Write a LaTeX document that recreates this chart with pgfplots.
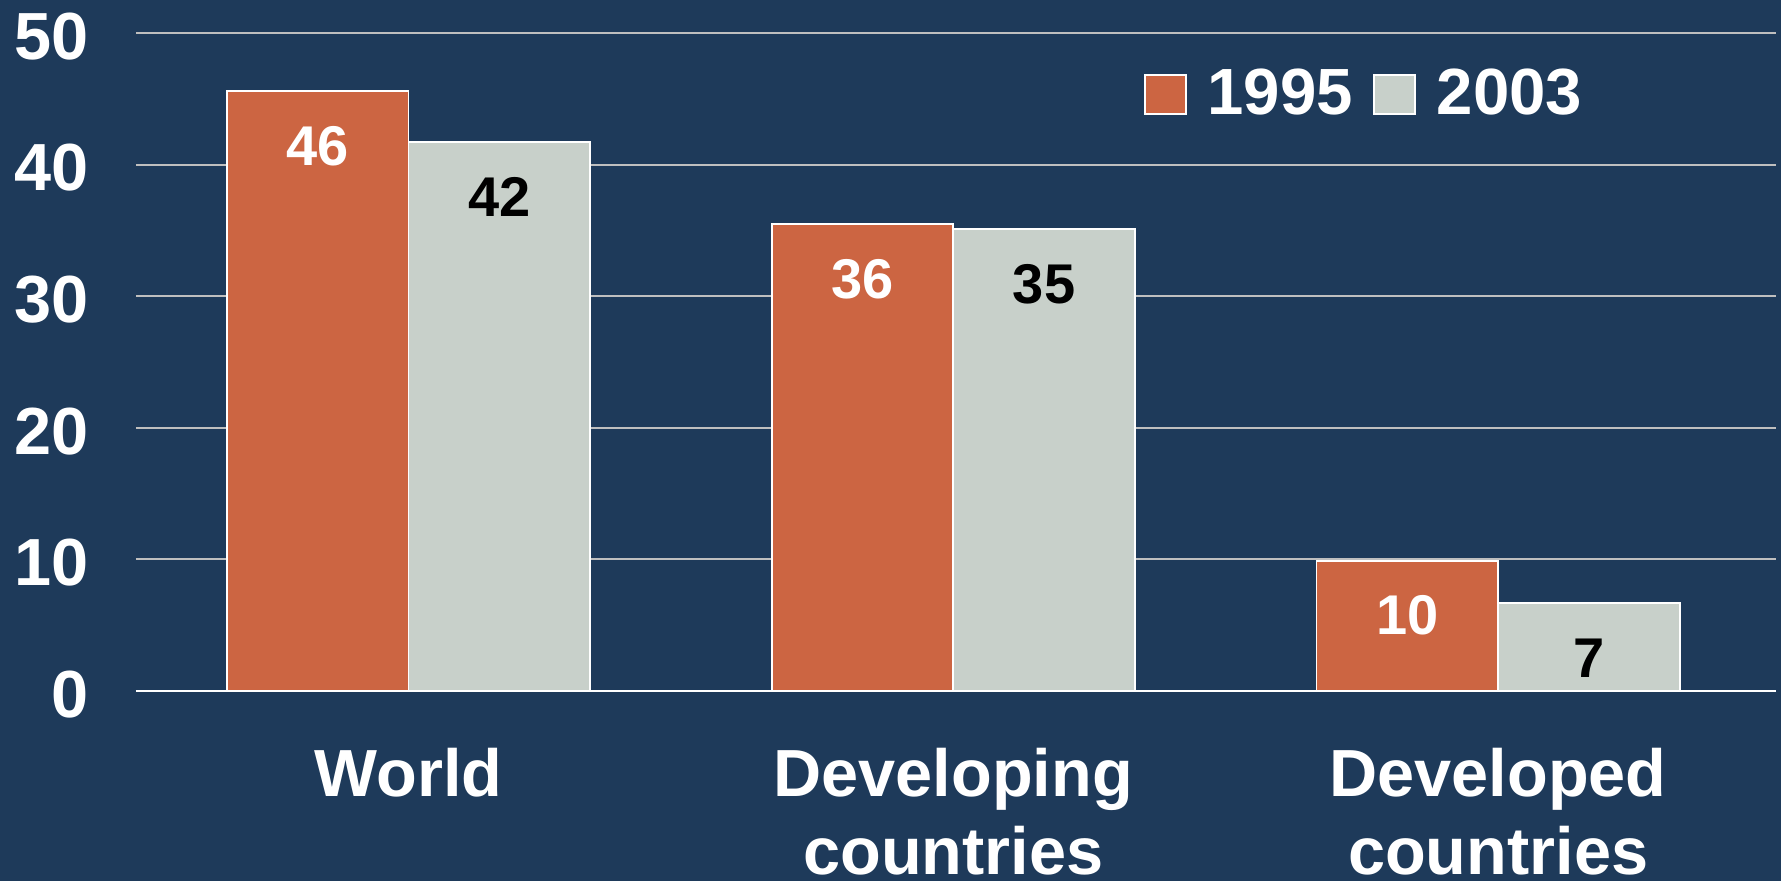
\documentclass[border=0pt]{standalone}
\usepackage{pgfplots}
\pgfplotsset{compat=1.18}
\usepackage{fontspec}
\setmainfont{Liberation Sans}

\definecolor{bgcol}{RGB}{30,58,90}
\definecolor{c1995}{RGB}{204,101,66}
\definecolor{c2003}{RGB}{200,208,202}
\definecolor{gridcol}{RGB}{191,191,191}

\begin{document}
\begin{tikzpicture}
% page = 1781 x 881 px at 0.3pt per px
\path[use as bounding box, fill=bgcol] (-40.8pt,-57pt) rectangle (493.5pt,207.3pt);
\begin{axis}[
    scale only axis,
    width=492pt, height=197.4pt,
    xmin=-0.5, xmax=2.51,
    ymin=0, ymax=50,
    ytick={0,10,20,30,40,50},
    xtick={0,1,2},
    xticklabels={World,{Developing\\countries},{Developed\\countries}},
    axis lines*=left,
    y axis line style={draw=none},
    x axis line style={draw=white, line width=0.75pt},
    major tick length=0pt,
    ymajorgrids,
    major grid style={draw=gridcol, line width=0.6pt},
    /pgf/number format/assume math mode=true,
    yticklabel style={anchor=east, inner sep=0pt, xshift=-14.1pt, yshift=-1pt,
        text=white, font=\bfseries\fontsize{20}{24}\selectfont},
    xticklabel style={anchor=north, inner sep=0pt, yshift=-17pt, align=center,
        text=white, font=\bfseries\fontsize{20}{23.5}\selectfont},
    ybar=0pt,
    bar width=0.3333,
    nodes near coords,
    point meta=explicit symbolic,
    nodes near coords style={anchor=center, yshift=-16.5pt,
        font=\bfseries\fontsize{16.8}{20}\selectfont},
    legend columns=-1,
    legend style={at={(0.614,0.907)}, anchor=west, draw=none, fill=none,
        inner sep=0pt, text=white,
        font=\bfseries\fontsize{19.6}{24}\selectfont,
        nodes={inner sep=0pt},
        /tikz/every odd column/.append style={column sep=6.3pt},
        /tikz/every even column/.append style={column sep=6pt}},
]
\addplot[fill=c1995, draw=white, line width=0.5pt, bar shift=-0.16667,
    nodes near coords style={text=white},
    legend image code/.code={\draw[fill=c1995,draw=white,line width=0.6pt] (0pt,-5.85pt) rectangle (12.3pt,5.85pt);}]
    coordinates {(0,45.6)[46] (1,35.5)[36] (2,9.9)[10]};
\addlegendentry{1995}
\addplot[fill=c2003, draw=white, line width=0.5pt, bar shift=0.16667,
    nodes near coords style={text=black},
    legend image code/.code={\draw[fill=c2003,draw=white,line width=0.6pt] (0pt,-5.85pt) rectangle (12.3pt,5.85pt);}]
    coordinates {(0,41.7)[42] (1,35.1)[35] (2,6.7)[7]};
\addlegendentry{2003}
\end{axis}
\end{tikzpicture}
\end{document}
